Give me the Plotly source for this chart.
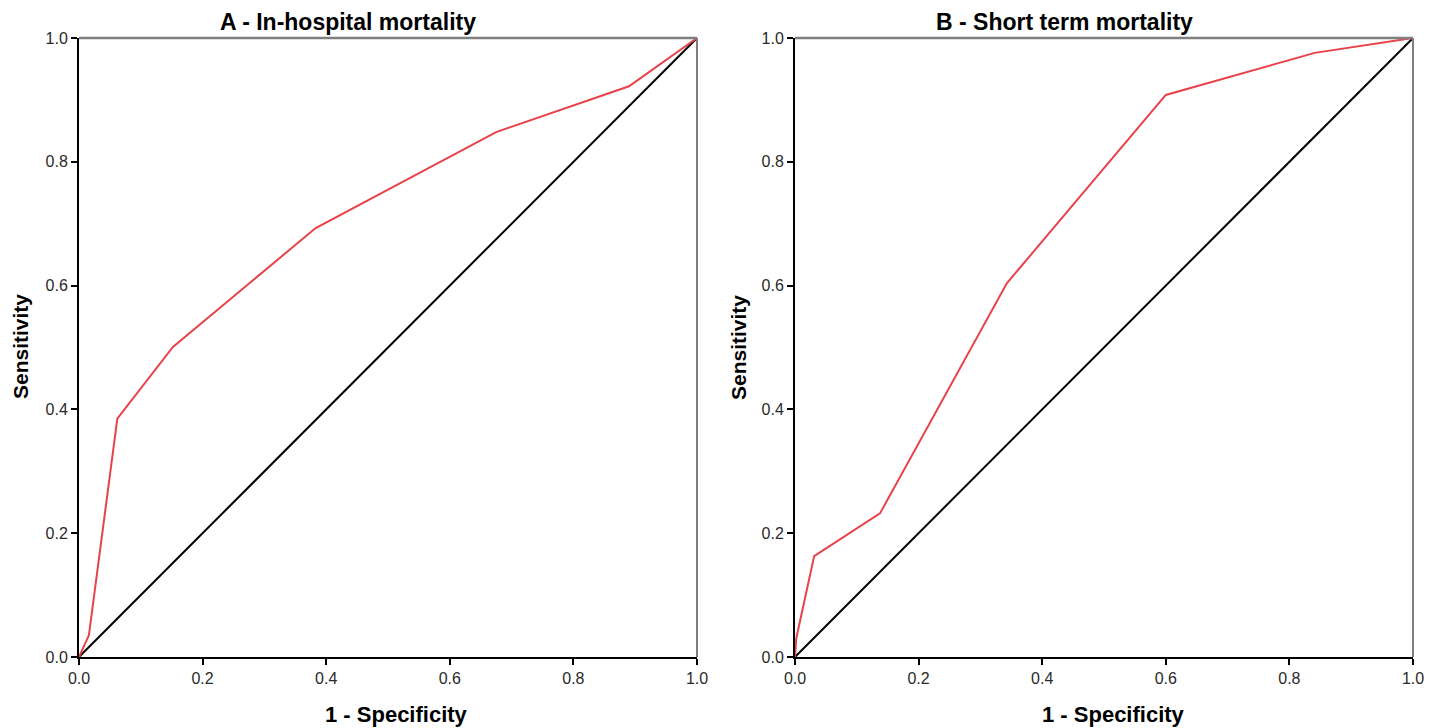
import plotly.graph_objects as go

W, H = 1438, 728
OFF = 8  # page body margin in the browser

# Panel A – In-hospital mortality (ROC)
a_fpr = [0.0, 0.016, 0.062, 0.152, 0.383, 0.675, 0.890, 1.0]
a_tpr = [0.0, 0.035, 0.385, 0.501, 0.693, 0.848, 0.922, 1.0]

# Panel B – Short term mortality (ROC)
b_fpr = [0.0, 0.002, 0.031, 0.1375, 0.343, 0.600, 0.841, 1.0]
b_tpr = [0.0, 0.030, 0.163, 0.232, 0.604, 0.908, 0.976, 1.0]

ref = [0.0, 1.0]
ticks = [0.0, 0.2, 0.4, 0.6, 0.8, 1.0]
tick_text = ["0.0", "0.2", "0.4", "0.6", "0.8", "1.0"]

titles = ["A - In-hospital mortality", "B - Short term mortality"]
xtitle = "1 - Specificity"
ytitle = "Sensitivity"

FONT = "Liberation Sans, Arial, sans-serif"
RED = "#e8424a"

def px(x):
    return (x - OFF) / W

def py(y):
    return 1 - (y - OFF) / H

fig = go.Figure()
fig.add_trace(go.Scatter(x=ref, y=ref, mode="lines", line=dict(color="black", width=2),
                         xaxis="x", yaxis="y", showlegend=False, hoverinfo="skip"))
fig.add_trace(go.Scatter(x=a_fpr, y=a_tpr, mode="lines", line=dict(color=RED, width=2),
                         xaxis="x", yaxis="y", showlegend=False))
fig.add_trace(go.Scatter(x=ref, y=ref, mode="lines", line=dict(color="black", width=2),
                         xaxis="x2", yaxis="y2", showlegend=False, hoverinfo="skip"))
fig.add_trace(go.Scatter(x=b_fpr, y=b_tpr, mode="lines", line=dict(color=RED, width=2),
                         xaxis="x2", yaxis="y2", showlegend=False))

ax_common = dict(range=[0, 1], tickvals=ticks, ticktext=tick_text, showgrid=False,
                 zeroline=False, showline=True, linecolor="black", linewidth=2,
                 ticks="outside", ticklen=6, tickwidth=1.5, tickcolor="black",
                 tickfont=dict(family=FONT, size=16, color="#2a2a2a"), fixedrange=True,
                 automargin=False)

xd1 = [px(79), px(697)]
xd2 = [px(795), px(1413)]
yd = [py(657), py(38)]

fig.update_layout(
    width=W, height=H,
    margin=dict(l=0, r=0, t=0, b=0, pad=0, autoexpand=False),
    paper_bgcolor="white", plot_bgcolor="white",
    xaxis=dict(domain=xd1, anchor="y", **ax_common),
    yaxis=dict(domain=yd, anchor="x", **ax_common),
    xaxis2=dict(domain=xd2, anchor="y2", **ax_common),
    yaxis2=dict(domain=yd, anchor="x2", **ax_common),
)

# top and right frame lines (gray)
for xr, yr in (("x", "y"), ("x2", "y2")):
    fig.add_shape(type="line", xref=xr + " domain", yref=yr + " domain", x0=0, x1=1, y0=1, y1=1,
                  line=dict(color="#7f7f7f", width=2.5))
    fig.add_shape(type="line", xref=xr + " domain", yref=yr + " domain", x0=1, x1=1, y0=0, y1=1,
                  line=dict(color="#7f7f7f", width=2))

# titles
for t, cx in zip(titles, (348, 1064)):
    fig.add_annotation(text="<b>" + t + "</b>", xref="paper", yref="paper", x=px(cx), y=py(22),
                       showarrow=False, font=dict(family=FONT, size=23, color="black"),
                       xanchor="center", yanchor="middle")
# x titles
for cx in (397, 1113):
    fig.add_annotation(text="<b>" + xtitle + "</b>", xref="paper", yref="paper", x=px(cx), y=py(714),
                       showarrow=False, font=dict(family=FONT, size=22, color="black"),
                       xanchor="center", yanchor="middle")
# y titles
for cx in (20, 738):
    fig.add_annotation(text="<b>" + ytitle + "</b>", xref="paper", yref="paper", x=px(cx), y=py(347),
                       showarrow=False, textangle=-90, font=dict(family=FONT, size=21, color="black"),
                       xanchor="center", yanchor="middle")

fig.write_html("out.html")
